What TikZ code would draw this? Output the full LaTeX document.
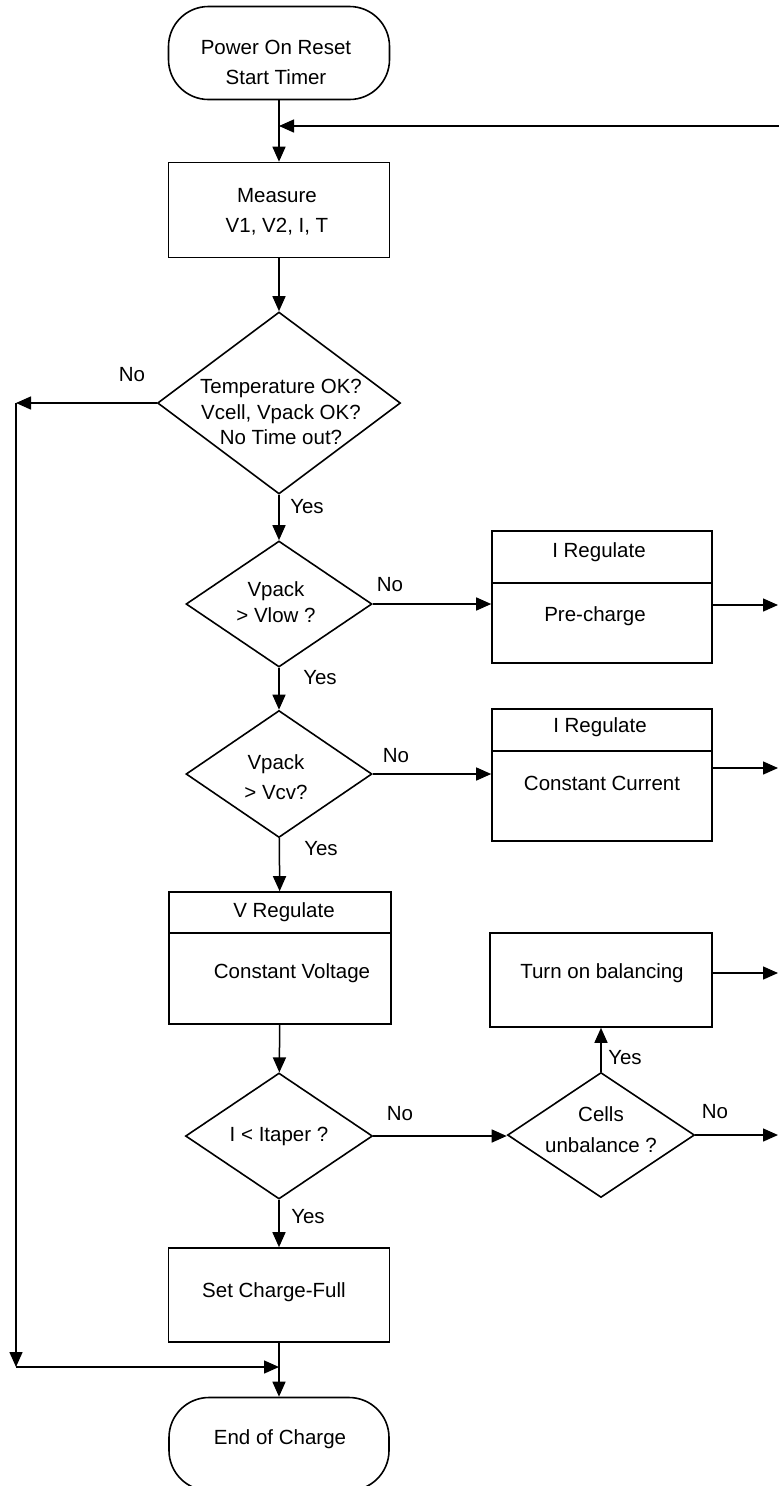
\documentclass[tikz,border=0pt]{standalone}
\usepackage{fontspec}
\setmainfont{Liberation Sans}
\usetikzlibrary{arrows.meta,shapes.geometric}

\begin{document}
\begin{tikzpicture}[x=1pt,y=-1pt,
  box/.style={draw,line width=1.6pt,inner sep=0pt},
  term/.style={box,rounded corners=40pt,minimum width=221pt,minimum height=93pt},
  dec/.style={draw,line width=1.6pt,diamond,inner sep=0pt},
  txt/.style={font=\fontsize{20.5pt}{30pt}\selectfont,align=center,inner sep=0pt},
  arr/.style={line width=1.5pt,-{Triangle[length=15pt,width=13pt]}}]
\useasboundingbox (0,0) rectangle (779,1486);
% start and measure
\node[term] (start) at (279,53) {};
\node[txt] (start text) at (276,62) {Power On Reset\\Start Timer};
\coordinate (loop in) at (779,126);
\coordinate (join) at (279,126);
\node[box,minimum width=221pt,minimum height=95pt] (measure) at (279,210) {};
\node[txt] (measure text) at (277,212) {Measure\\V1, V2, I, T};
% checks
\node[dec,minimum width=243pt,minimum height=182pt] (d1) at (279,403) {};
\node[txt,font=\fontsize{20.5pt}{25.5pt}\selectfont] (d1 text) at (281,412) {Temperature OK?\\Vcell, Vpack OK?\\No Time out?};
\coordinate (no turn) at (16,403);
\coordinate (no low) at (16,1367);
\coordinate (merge) at (279,1367);
\node[dec,minimum width=186pt,minimum height=126pt] (d2) at (279,604) {};
\node[txt,font=\fontsize{20.5pt}{26pt}\selectfont] (d2 text) at (276,602) {Vpack\\> Vlow ?};
\node[dec,minimum width=186pt,minimum height=127pt] (d3) at (279,774) {};
\node[txt] (d3 text) at (276,777) {Vpack\\> Vcv?};
% current regulation
\node[box,minimum width=220pt,minimum height=132pt] (pre) at (602,597) {};
\draw[line width=1.6pt] ([yshift=-53pt]pre.north west) -- ([yshift=-53pt]pre.north east);
\node[txt] (pre head) at (599,552) {I Regulate};
\node[txt] (pre text) at (595,616) {Pre-charge};
\coordinate (pre out) at (778,605);
\node[box,minimum width=220pt,minimum height=132pt] (cc) at (602,775) {};
\draw[line width=1.6pt] ([yshift=-43pt]cc.north west) -- ([yshift=-43pt]cc.north east);
\node[txt] (cc head) at (600,727) {I Regulate};
\node[txt] (cc text) at (602,783) {Constant Current};
\coordinate (cc out) at (778,768);
% voltage regulation
\node[box,minimum width=222pt,minimum height=132pt] (vreg) at (280,958) {};
\draw[line width=1.6pt] ([yshift=-42pt]vreg.north west) -- ([yshift=-42pt]vreg.north east);
\node[txt] (vreg head) at (284,912) {V Regulate};
\node[txt] (vreg text) at (292,973) {Constant Voltage};
\node[dec,minimum width=187pt,minimum height=126pt] (d4) at (279,1136) {};
\node[txt] (d4 text) at (279,1136) {I < Itaper ?};
% balancing
\node[dec,minimum width=187pt,minimum height=125pt] (cells) at (601,1135) {};
\node[txt,font=\fontsize{20.5pt}{31pt}\selectfont] (cells text) at (601,1130) {Cells\\unbalance ?};
\node[box,minimum width=222pt,minimum height=94pt] (bal) at (601,980) {};
\node[txt] (bal text) at (602,973) {Turn on balancing};
\coordinate (bal out) at (778,973);
\coordinate (cells out) at (778,1135);
% end
\node[box,minimum width=221pt,minimum height=94pt] (set) at (279,1295) {};
\node[txt] (set text) at (274,1292) {Set Charge-Full};
\node[term,minimum width=220pt] (end) at (279,1444) {};
\node[txt] (end text) at (280,1439) {End of Charge};
% labels
\node[txt] (no1) at (132,375) {No};
\node[txt] (yes1) at (307,507) {Yes};
\node[txt] (no2) at (390,585) {No};
\node[txt] (yes2) at (320,678) {Yes};
\node[txt] (no3) at (396,756) {No};
\node[txt] (yes3) at (321,849) {Yes};
\node[txt] (no4) at (400,1114) {No};
\node[txt] (yes4) at (308,1217) {Yes};
\node[txt] (yes5) at (625,1058) {Yes};
\node[txt] (no5) at (715,1112) {No};
% connectors
\draw[arr] (start) -- (measure);
\draw[arr] (loop in) -- (join);
\draw[arr] (measure) -- (d1);
\draw[arr] (d1) -- (no turn);
\draw[arr] (no turn) -- (no low);
\draw[arr] (no low) -- (merge);
\draw[arr] (d1) -- (d2);
\draw[arr] (d2.east) -- (d2.east -| pre.west);
\draw[arr] (pre.east |- pre out) -- (pre out);
\draw[arr] (d2) -- (d3);
\draw[arr] (d3.east) -- (d3.east -| cc.west);
\draw[arr] (cc.east |- cc out) -- (cc out);
\draw[arr] (d3) -- (vreg);
\draw[arr] (vreg) -- (d4);
\draw[arr] (d4.east) -- (d4.east -| cells.west);
\draw[arr] (cells) -- (bal);
\draw[arr] (bal.east |- bal out) -- (bal out);
\draw[arr] (cells) -- (cells out);
\draw[arr] (d4) -- (set);
\draw[arr] (set) -- (end);
\end{tikzpicture}
\end{document}
